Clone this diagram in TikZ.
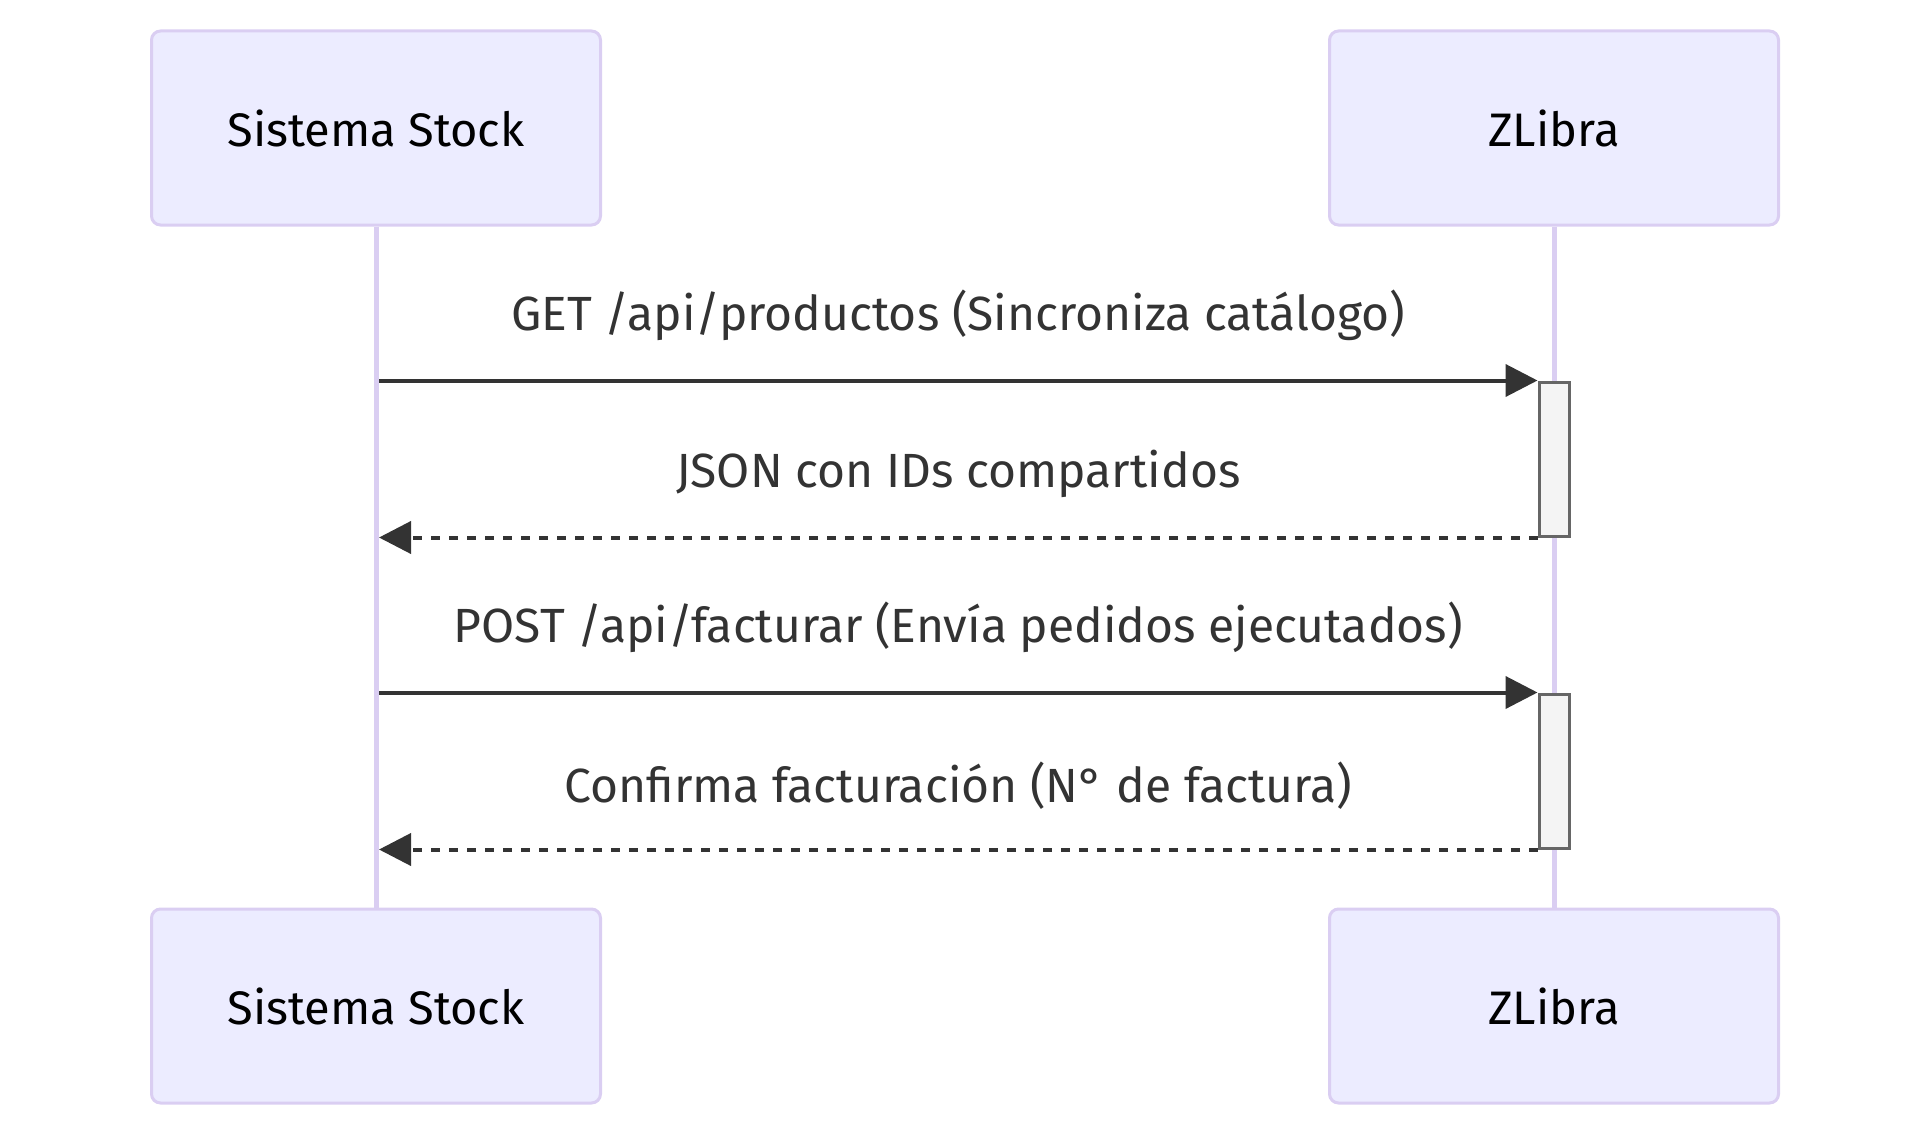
\documentclass[tikz,border=0pt]{standalone}
\usepackage{fontspec}
\setmainfont{Fira Sans}
\usepackage{tikz}
\usetikzlibrary{arrows.meta,positioning}
\definecolor{actorfill}{HTML}{ECECFF}
\definecolor{actorline}{HTML}{DACEF2}
\definecolor{msgcol}{HTML}{333333}
\definecolor{actfill}{HTML}{F4F4F4}
\definecolor{actline}{HTML}{666666}
\tikzset{
  >={Triangle[length=32pt,width=32pt]},
  x=1pt, y=-1pt,
}
\tikzstyle{actor}=[draw=actorline,line width=3pt,fill=actorfill,rounded corners=9pt,minimum width=449pt,minimum height=194pt,inner sep=0pt,font=\fontsize{47}{50}\selectfont]
\tikzstyle{lifeline}=[actorline,line width=5pt]
\tikzstyle{activ}=[draw=actline,line width=3pt,fill=actfill,minimum width=30pt,minimum height=154pt,inner sep=0pt]
\tikzstyle{msg}=[msgcol,line width=4pt,->]
\tikzstyle{reply}=[msgcol,line width=4pt,dash pattern=on 9pt off 9pt,->]
\tikzstyle{lbl}=[text=msgcol,font=\fontsize{48}{52}\selectfont,inner sep=0pt]

\begin{document}
\begin{tikzpicture}
    \useasboundingbox (0,0) rectangle (1929,1137);
    \node[actor] (stockTop) at (376,128) {Sistema Stock};
    \node[actor] (zlibTop) at (1554,128) {ZLibra};
    \node[actor] (stockBot) at (376,1006) {Sistema Stock};
    \node[actor] (zlibBot) at (1554,1006) {ZLibra};
    \draw[lifeline] (stockTop) -- (stockBot);
    \draw[lifeline] (zlibTop) -- (zlibBot);
    \node[activ] (act1) at (1554,459) {};
    \node[activ] (act2) at (1554,771) {};
    \draw[msg] ([xshift=3pt]stockTop.south |- act1.north) -- (act1.north west)
      node[lbl,midway,above=38pt] (lblGet) {GET /api/productos (Sincroniza catálogo)};
    \draw[reply] (act1.south west) -- ([xshift=3pt]stockTop.south |- act1.south)
      node[lbl,midway,above=38pt] (lblJson) {JSON con IDs compartidos};
    \draw[msg] ([xshift=3pt]stockTop.south |- act2.north) -- (act2.north west)
      node[lbl,midway,above=38pt] (lblPost) {POST /api/facturar (Envía pedidos ejecutados)};
    \draw[reply] (act2.south west) -- ([xshift=3pt]stockTop.south |- act2.south)
      node[lbl,midway,above=38pt] (lblConf) {Confirma facturación (N° de factura)};
\end{tikzpicture}
\end{document}
